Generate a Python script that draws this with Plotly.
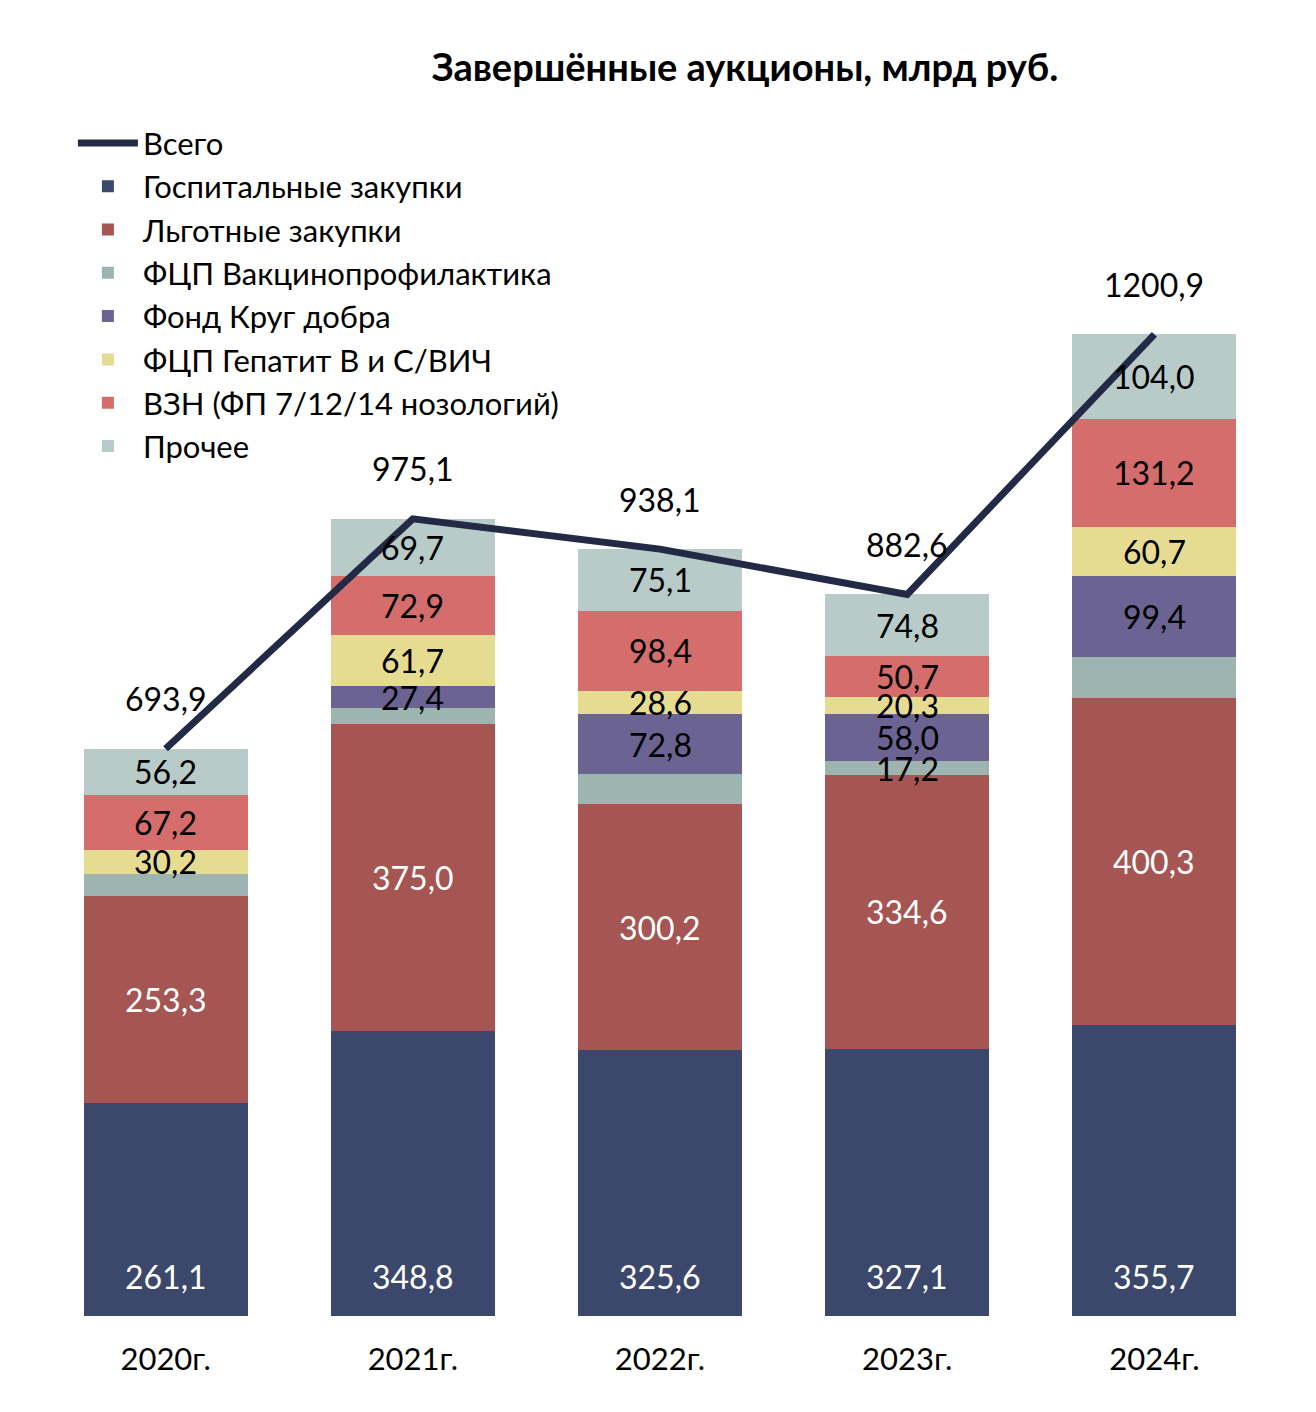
import plotly.graph_objects as go

years = ["2020г.", "2021г.", "2022г.", "2023г.", "2024г."]
hosp = [261.1, 348.8, 325.6, 327.1, 355.7]
lgot = [253.3, 375.0, 300.2, 334.6, 400.3]
vakc = [25.9, 19.6, 37.4, 17.2, 49.6]
krug = [0.0, 27.4, 72.8, 58.0, 99.4]
gep = [30.2, 61.7, 28.6, 20.3, 60.7]
vzn = [67.2, 72.9, 98.4, 50.7, 131.2]
other = [56.2, 69.7, 75.1, 74.8, 104.0]
total = [693.9, 975.1, 938.1, 882.6, 1200.9]

# which segments get a value label
show = {
    "hosp": [1, 1, 1, 1, 1],
    "lgot": [1, 1, 1, 1, 1],
    "vakc": [0, 0, 0, 1, 0],
    "krug": [0, 1, 1, 1, 1],
    "gep": [1, 1, 1, 1, 1],
    "vzn": [1, 1, 1, 1, 1],
    "other": [1, 1, 1, 1, 1],
}

series = [
    ("hosp", "Госпитальные закупки", hosp, "#3b476b", "white"),
    ("lgot", "Льготные закупки", lgot, "#a55552", "white"),
    ("vakc", "ФЦП Вакцинопрофилактика", vakc, "#9db4b0", "black"),
    ("krug", "Фонд Круг добра", krug, "#6b6391", "black"),
    ("gep", "ФЦП Гепатит В и С/ВИЧ", gep, "#e5dc91", "black"),
    ("vzn", "ВЗН (ФП 7/12/14 нозологий)", vzn, "#d46d6b", "black"),
    ("other", "Прочее", other, "#b9cbc8", "black"),
]

FONT = "Lato"
fmt = lambda v: f"{v:.1f}".replace(".", ",")

fig = go.Figure()
ann = []
base = [0.0] * 5
for rank, (key, name, vals, color, tc) in enumerate(series):
    fig.add_trace(go.Bar(x=years, y=vals, name=name, marker_color=color,
                         marker_line_width=0, legendrank=100 - rank))
    for i, v in enumerate(vals):
        if show[key][i]:
            if key == "hosp":
                # label sits near the bar base
                ann.append(dict(x=years[i], y=0, text=fmt(v), showarrow=False, yshift=40,
                                font=dict(size=32, color=tc, family=FONT)))
            else:
                ann.append(dict(x=years[i], y=base[i] + v / 2, text=fmt(v), showarrow=False,
                                font=dict(size=32, color=tc, family=FONT)))
        base[i] += v

fig.add_trace(go.Scatter(x=years, y=total, name="Всего", mode="lines",
                         line=dict(color="#222a45", width=7), legendrank=200))
for i, v in enumerate(total):
    ann.append(dict(x=years[i], y=v, text=fmt(v), showarrow=False, yshift=50,
                    font=dict(size=32, color="black", family=FONT)))

fig.update_layout(
    width=1316, height=1412,
    barmode="stack", bargap=0.336,
    plot_bgcolor="white", paper_bgcolor="white",
    margin=dict(l=34, r=46, t=90, b=104),
    font=dict(family=FONT, size=30, color="black"),
    title=dict(text="<b>Завершённые аукционы, млрд руб.</b>", x=0.56, xanchor="center",
               y=0.967, font=dict(size=38, family=FONT)),
    legend=dict(x=0.025, y=0.985, xanchor="left", yanchor="top", font=dict(size=31),
                bgcolor="rgba(0,0,0,0)", tracegroupgap=0, itemwidth=60),
    annotations=ann,
    showlegend=True,
)
fig.update_xaxes(showline=False, ticks="", tickfont=dict(size=31), ticklabelstandoff=22)
fig.update_yaxes(visible=False, range=[0, 1490])
fig.write_html("out.html")
